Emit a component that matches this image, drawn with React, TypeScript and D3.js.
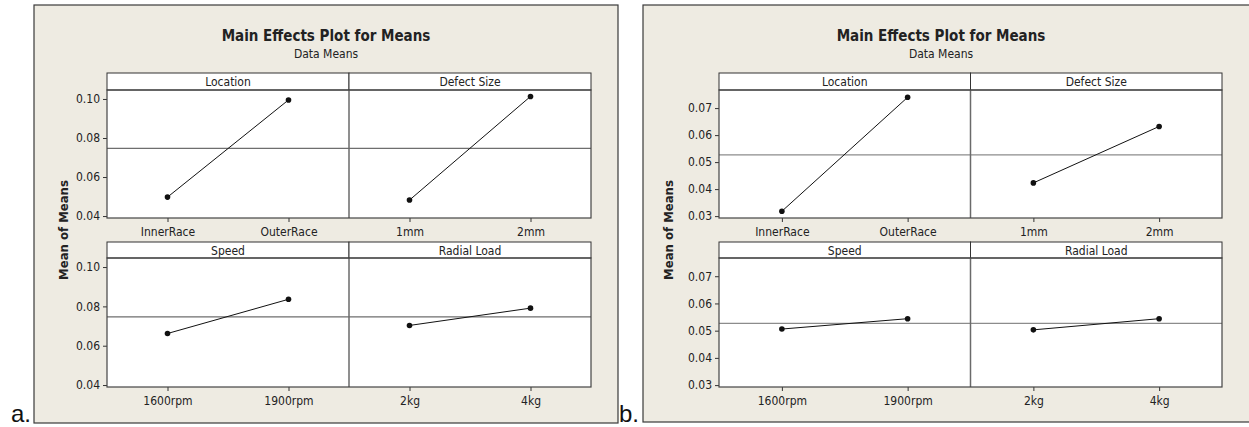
import React, { useEffect, useRef } from 'react';
import * as d3 from 'd3';

// factors and their two levels (shared by both plots)
const factors = ["Location", "Defect Size", "Speed", "Radial Load"];
const levels = [["InnerRace", "OuterRace"], ["1mm", "2mm"], ["1600rpm", "1900rpm"], ["2kg", "4kg"]];

// plot a.
const meansA = [[0.0497, 0.0995], [0.0482, 0.1013], [0.0662, 0.0836], [0.0703, 0.0791]];
const grandMeanA = 0.0747;
const ticksA = [0.04, 0.06, 0.08, 0.10];
const domainA = [0.039, 0.1046];

// plot b.
const meansB = [[0.0318, 0.0740], [0.0423, 0.0632], [0.0506, 0.0544], [0.0503, 0.0544]];
const grandMeanB = 0.0527;
const ticksB = [0.03, 0.04, 0.05, 0.06, 0.07];
const domainB = [0.0293, 0.0767];

const FONT = "'DejaVu Sans Condensed', 'DejaVu Sans', sans-serif";
const BG = "#eeebe2";
const INK = "#222";

function drawChart(svg, o) {
    const g = svg.append("g");
    g.append("rect")
        .attr("x", o.left).attr("y", o.top)
        .attr("width", o.right - o.left).attr("height", o.bottom - o.top)
        .attr("fill", BG).attr("stroke", "#3a3a3a").attr("stroke-width", 1.2);

    g.append("text")
        .attr("x", o.cx).attr("y", 41)
        .attr("text-anchor", "middle")
        .style("font-family", FONT).style("font-size", "15px").style("font-weight", "bold")
        .attr("fill", INK)
        .text("Main Effects Plot for Means");
    g.append("text")
        .attr("x", o.cx).attr("y", 58)
        .attr("text-anchor", "middle")
        .style("font-family", FONT).style("font-size", "12px")
        .attr("fill", INK)
        .text("Data Means");

    g.append("text")
        .attr("transform", `translate(${o.yLabelX},230) rotate(-90)`)
        .attr("text-anchor", "middle")
        .attr("dy", "0.35em")
        .style("font-family", FONT).style("font-size", "13px").style("font-weight", "bold")
        .attr("fill", INK)
        .text("Mean of Means");

    const rows = [
        { stripTop: 73, plotTop: 90, plotBottom: 218 },
        { stripTop: 242, plotTop: 258, plotBottom: 387 }
    ];
    const cols = d3.scaleBand().domain([0, 1]).range([o.plotL, o.plotR]);

    rows.forEach((row) => {
        g.append("rect")
            .attr("x", o.plotL).attr("y", row.plotTop)
            .attr("width", o.plotR - o.plotL).attr("height", row.plotBottom - row.plotTop)
            .attr("fill", "#fff");
    });

    factors.forEach((f, i) => {
        const row = rows[Math.floor(i / 2)];
        const x0 = cols(i % 2);
        const x1 = x0 + cols.bandwidth();
        const x = d3.scalePoint().domain(levels[i]).range([x0, x1]).padding(0.5);
        const y = d3.scaleLinear().domain(o.domain).range([row.plotBottom, row.plotTop]);

        // strip
        g.append("rect")
            .attr("x", x0).attr("y", row.stripTop)
            .attr("width", x1 - x0).attr("height", row.plotTop - row.stripTop)
            .attr("fill", "#fff").attr("stroke", "#333").attr("stroke-width", 1);
        g.append("text")
            .attr("x", (x0 + x1) / 2).attr("y", row.stripTop + 13)
            .attr("text-anchor", "middle")
            .style("font-family", FONT).style("font-size", "12px")
            .attr("fill", INK)
            .text(f);

        // grand mean reference
        g.append("line")
            .attr("x1", x0).attr("x2", x1)
            .attr("y1", y(o.grand)).attr("y2", y(o.grand))
            .attr("stroke", o.refColor).attr("stroke-width", 1.2);

        const pts = levels[i].map((lv, j) => [x(lv), y(o.means[i][j])]);
        g.append("path")
            .attr("d", d3.line()(pts))
            .attr("fill", "none").attr("stroke", "#111").attr("stroke-width", 1);
        g.selectAll(null).data(pts).enter().append("circle")
            .attr("cx", d => d[0]).attr("cy", d => d[1]).attr("r", 2.8)
            .attr("fill", "#111");

        const xAxisG = g.append("g")
            .attr("transform", `translate(0,${row.plotBottom})`)
            .call(d3.axisBottom(x).tickSize(4).tickPadding(5));
        xAxisG.select(".domain").remove();
        xAxisG.selectAll(".tick line").attr("stroke", "#333");
        xAxisG.selectAll("text")
            .attr("fill", INK)
            .style("font-family", FONT).style("font-size", "12px");

        if (i % 2 === 0) {
            const yAxisG = g.append("g")
                .attr("transform", `translate(${o.plotL},0)`)
                .call(d3.axisLeft(y).tickValues(o.ticks).tickFormat(d3.format(".2f")).tickSize(4).tickPadding(3));
            yAxisG.select(".domain").remove();
            yAxisG.selectAll(".tick line").attr("stroke", "#333");
            yAxisG.selectAll("text")
                .attr("fill", INK)
                .style("font-family", FONT).style("font-size", "12px");
        }
    });

    rows.forEach((row) => {
        const mid = cols(1);
        g.append("line")
            .attr("x1", mid).attr("x2", mid)
            .attr("y1", row.plotTop).attr("y2", row.plotBottom)
            .attr("stroke", "#6a6a6a").attr("stroke-width", 1.5);
        g.append("rect")
            .attr("x", o.plotL).attr("y", row.plotTop)
            .attr("width", o.plotR - o.plotL).attr("height", row.plotBottom - row.plotTop)
            .attr("fill", "none").attr("stroke", "#444").attr("stroke-width", 1.2);
    });

    svg.append("text")
        .attr("x", o.tagX).attr("y", 422)
        .style("font-family", "'Liberation Sans', Arial, sans-serif").style("font-size", "24px")
        .attr("fill", "#111")
        .text(o.tag);
}

export default function App() {
    const svgRef = useRef(null);

    useEffect(() => {
        const svg = d3.select(svgRef.current).html("");
        svg.append("rect").attr("width", 1249).attr("height", 427).attr("fill", "#fff");

        drawChart(svg, {
            left: 34, right: 618, top: 5, bottom: 423, cx: 326,
            plotL: 107, plotR: 591, yLabelX: 63,
            means: meansA, grand: grandMeanA, ticks: ticksA, domain: domainA,
            refColor: "#6e6e6e", tag: "a.", tagX: 11
        });
        drawChart(svg, {
            left: 643, right: 1262, top: 5, bottom: 422, cx: 941,
            plotL: 719, plotR: 1222, yLabelX: 668,
            means: meansB, grand: grandMeanB, ticks: ticksB, domain: domainB,
            refColor: "#8c8c8c", tag: "b.", tagX: 619
        });
    }, []);

    return (
        <>
            <style>{`body{margin:0}`}</style>
            <svg ref={svgRef} width={1249} height={427} style={{ display: "block" }} />
        </>
    );
}
